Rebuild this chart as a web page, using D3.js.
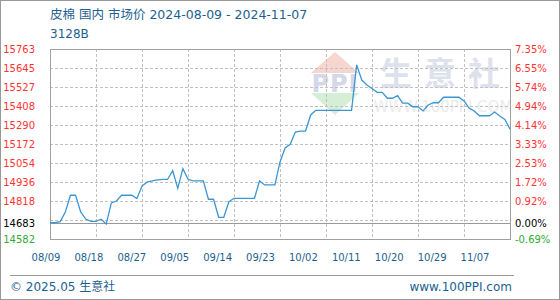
<!DOCTYPE html>
<html>
<head>
<meta charset="utf-8">
<script src="https://cdn.jsdelivr.net/npm/d3@7"></script>
<style>
  body { margin: 0; background: #fff; }
  text { font-family: "DejaVu Sans", "Noto Sans CJK SC", sans-serif; }
</style>
</head>
<body>
<div id="chart"></div>
<script>
const WIDTH = 560;
const HEIGHT = 300;
const LEFT = 50, RIGHT = 510, TOP = 49, BOTTOM = 239;

const title = "皮棉 国内 市场价 2024-08-09 - 2024-11-07";
const subtitle = "3128B";
const startDate = "2024-08-09";
const endDate = "2024-11-07";

// daily prices, 08/09 .. 11/07
const prices = [
  14683, 14683, 14690, 14750, 14854, 14854, 14750, 14706, 14692, 14692,
  14705, 14675, 14806, 14818, 14854, 14854, 14854, 14833, 14911, 14935,
  14943, 14949, 14952, 14952, 15007, 14897, 15019, 14953, 14943, 14943,
  14943, 14829, 14829, 14717, 14717, 14814, 14835, 14835, 14835, 14835,
  14835, 14944, 14918, 14918, 14918, 15061, 15148, 15171, 15247, 15253,
  15253, 15353, 15382, 15382, 15382, 15382, 15382, 15382, 15382, 15382,
  15664, 15570, 15539, 15518, 15494, 15494, 15457, 15457, 15473, 15426,
  15426, 15404, 15404, 15378, 15415, 15429, 15429, 15463, 15463, 15463,
  15463, 15440, 15396, 15378, 15348, 15348, 15348, 15371, 15347, 15325,
  15264
];

const gridValues = [15763, 15645, 15527, 15408, 15290, 15172, 15054, 14936, 14818, 14700, 14582];
const leftLabels = ["15763", "15645", "15527", "15408", "15290", "15172", "15054", "14936", "14818", "14683", "14582"];
const labelValues = [15763, 15645, 15527, 15408, 15290, 15172, 15054, 14936, 14818, 14683, 14582];
const rightLabels = ["7.35%", "6.55%", "5.74%", "4.94%", "4.14%", "3.33%", "2.53%", "1.72%", "0.92%", "0.00%", "-0.69%"];
const baseValue = 14683;
const dateLabels = ["08/09", "08/18", "08/27", "09/05", "09/14", "09/23", "10/02", "10/11", "10/20", "10/29", "11/07"];
const gridEveryDays = 9;

const BLUE_TEXT = "#1d5f8f";

var labelColor = function (v) {
  if (v > baseValue) return "#ff3333";
  if (v < baseValue) return "#33aa33";
  return "#000";
};

var svg = d3.select("#chart").append("svg")
  .attr("width", WIDTH)
  .attr("height", HEIGHT);

var parse = d3.timeParse("%Y-%m-%d");
var d0 = parse(startDate), d1 = parse(endDate);

var x = d3.scaleTime().domain([d0, d1]).range([LEFT, RIGHT]);
var y = d3.scaleLinear().domain([14582, 15763]).range([BOTTOM, TOP]);
var xLabel = d3.scalePoint().domain(dateLabels).range([46, 475]);

var data = prices.map(function (p, i) {
  return { date: d3.timeDay.offset(d0, i), value: p };
});

// outer frame
svg.append("rect")
  .attr("x", 0.5).attr("y", 0.5)
  .attr("width", WIDTH - 1).attr("height", HEIGHT - 1)
  .attr("fill", "none").attr("stroke", "#999");

// watermark
var wm = svg.append("g");
wm.append("path")
  .attr("d", "M311,73 L335,52 L359,73 Z")
  .attr("fill", "#f6d6cf");
wm.append("path")
  .attr("d", "M311,93 L359,93 L335,115 Z")
  .attr("fill", "#d6eed6");
wm.append("text")
  .attr("x", 335).attr("y", 92)
  .attr("text-anchor", "middle")
  .attr("font-size", 24).attr("font-weight", "bold")
  .attr("font-family", "Liberation Serif, serif")
  .attr("letter-spacing", 1)
  .attr("fill", "#d3d9e8")
  .text("PPI");
wm.append("text")
  .attr("x", 446).attr("y", 85)
  .attr("text-anchor", "middle")
  .attr("font-size", 32).attr("font-weight", "bold")
  .attr("letter-spacing", 12)
  .attr("fill", "#dde1eb")
  .text("生意社");
wm.append("text")
  .attr("x", 443).attr("y", 112)
  .attr("text-anchor", "middle")
  .attr("font-size", 15)
  .attr("fill", "#ececec")
  .text("WWW.100PPI.COM");

// grid as paths (horizontal at tick values, vertical every 9 days)
var vDates = d3.range(1, 10).map(function (k) { return d3.timeDay.offset(d0, k * gridEveryDays); });
var gridPath = d3.path();
gridValues.forEach(function (v) {
  var yy = Math.round(y(v)) + 0.5;
  gridPath.moveTo(LEFT, yy);
  gridPath.lineTo(RIGHT, yy);
});
vDates.forEach(function (d) {
  var xx = Math.round(x(d)) + 0.5;
  gridPath.moveTo(xx, TOP);
  gridPath.lineTo(xx, BOTTOM);
});
svg.append("path")
  .attr("d", gridPath.toString())
  .attr("fill", "none")
  .attr("stroke", "#c0c0c0")
  .attr("stroke-width", 1)
  .attr("stroke-dasharray", "3,2");

// plot frame
svg.append("rect")
  .attr("x", LEFT + 0.5).attr("y", TOP + 0.5)
  .attr("width", RIGHT - LEFT).attr("height", BOTTOM - TOP)
  .attr("fill", "none").attr("stroke", "#a0a0a0");

// base line at start price
svg.append("line")
  .attr("x1", LEFT).attr("x2", RIGHT)
  .attr("y1", Math.round(y(baseValue)) + 0.5)
  .attr("y2", Math.round(y(baseValue)) + 0.5)
  .attr("stroke", "#999");

// price line
var line = d3.line()
  .x(function (d) { return x(d.date); })
  .y(function (d) { return y(d.value); });

svg.append("path")
  .datum(data)
  .attr("d", line)
  .attr("fill", "none")
  .attr("stroke", "#3a97d4")
  .attr("stroke-width", 1.3);

// left labels
svg.append("g").selectAll("text")
  .data(labelValues)
  .enter().append("text")
  .attr("x", 35)
  .attr("y", function (d) { return y(d) + 4; })
  .attr("text-anchor", "end")
  .attr("font-size", 10)
  .attr("fill", labelColor)
  .text(function (d, i) { return leftLabels[i]; });

// right labels
svg.append("g").selectAll("text")
  .data(labelValues)
  .enter().append("text")
  .attr("x", 515)
  .attr("y", function (d) { return y(d) + 4; })
  .attr("font-size", 10)
  .attr("fill", labelColor)
  .text(function (d, i) { return rightLabels[i]; });

// date labels
svg.append("g").selectAll("text")
  .data(dateLabels)
  .enter().append("text")
  .attr("x", function (d) { return xLabel(d); })
  .attr("y", 261)
  .attr("text-anchor", "middle")
  .attr("font-size", 10)
  .attr("fill", BLUE_TEXT)
  .text(function (d) { return d; });

// title
svg.append("text")
  .attr("x", 50).attr("y", 19)
  .attr("font-size", 12.5)
  .attr("fill", BLUE_TEXT)
  .text(title);
svg.append("text")
  .attr("x", 50).attr("y", 38)
  .attr("font-size", 12)
  .attr("fill", BLUE_TEXT)
  .text(subtitle);

// footer
svg.append("line")
  .attr("x1", 10).attr("x2", 514)
  .attr("y1", 275.5).attr("y2", 275.5)
  .attr("stroke", "#999");
svg.append("text")
  .attr("x", 10).attr("y", 291)
  .attr("font-size", 12)
  .attr("fill", BLUE_TEXT)
  .text("© 2025.05 生意社");
svg.append("text")
  .attr("x", 512).attr("y", 291)
  .attr("text-anchor", "end")
  .attr("font-size", 12)
  .attr("fill", BLUE_TEXT)
  .text("www.100PPI.com");
</script>
</body>
</html>
